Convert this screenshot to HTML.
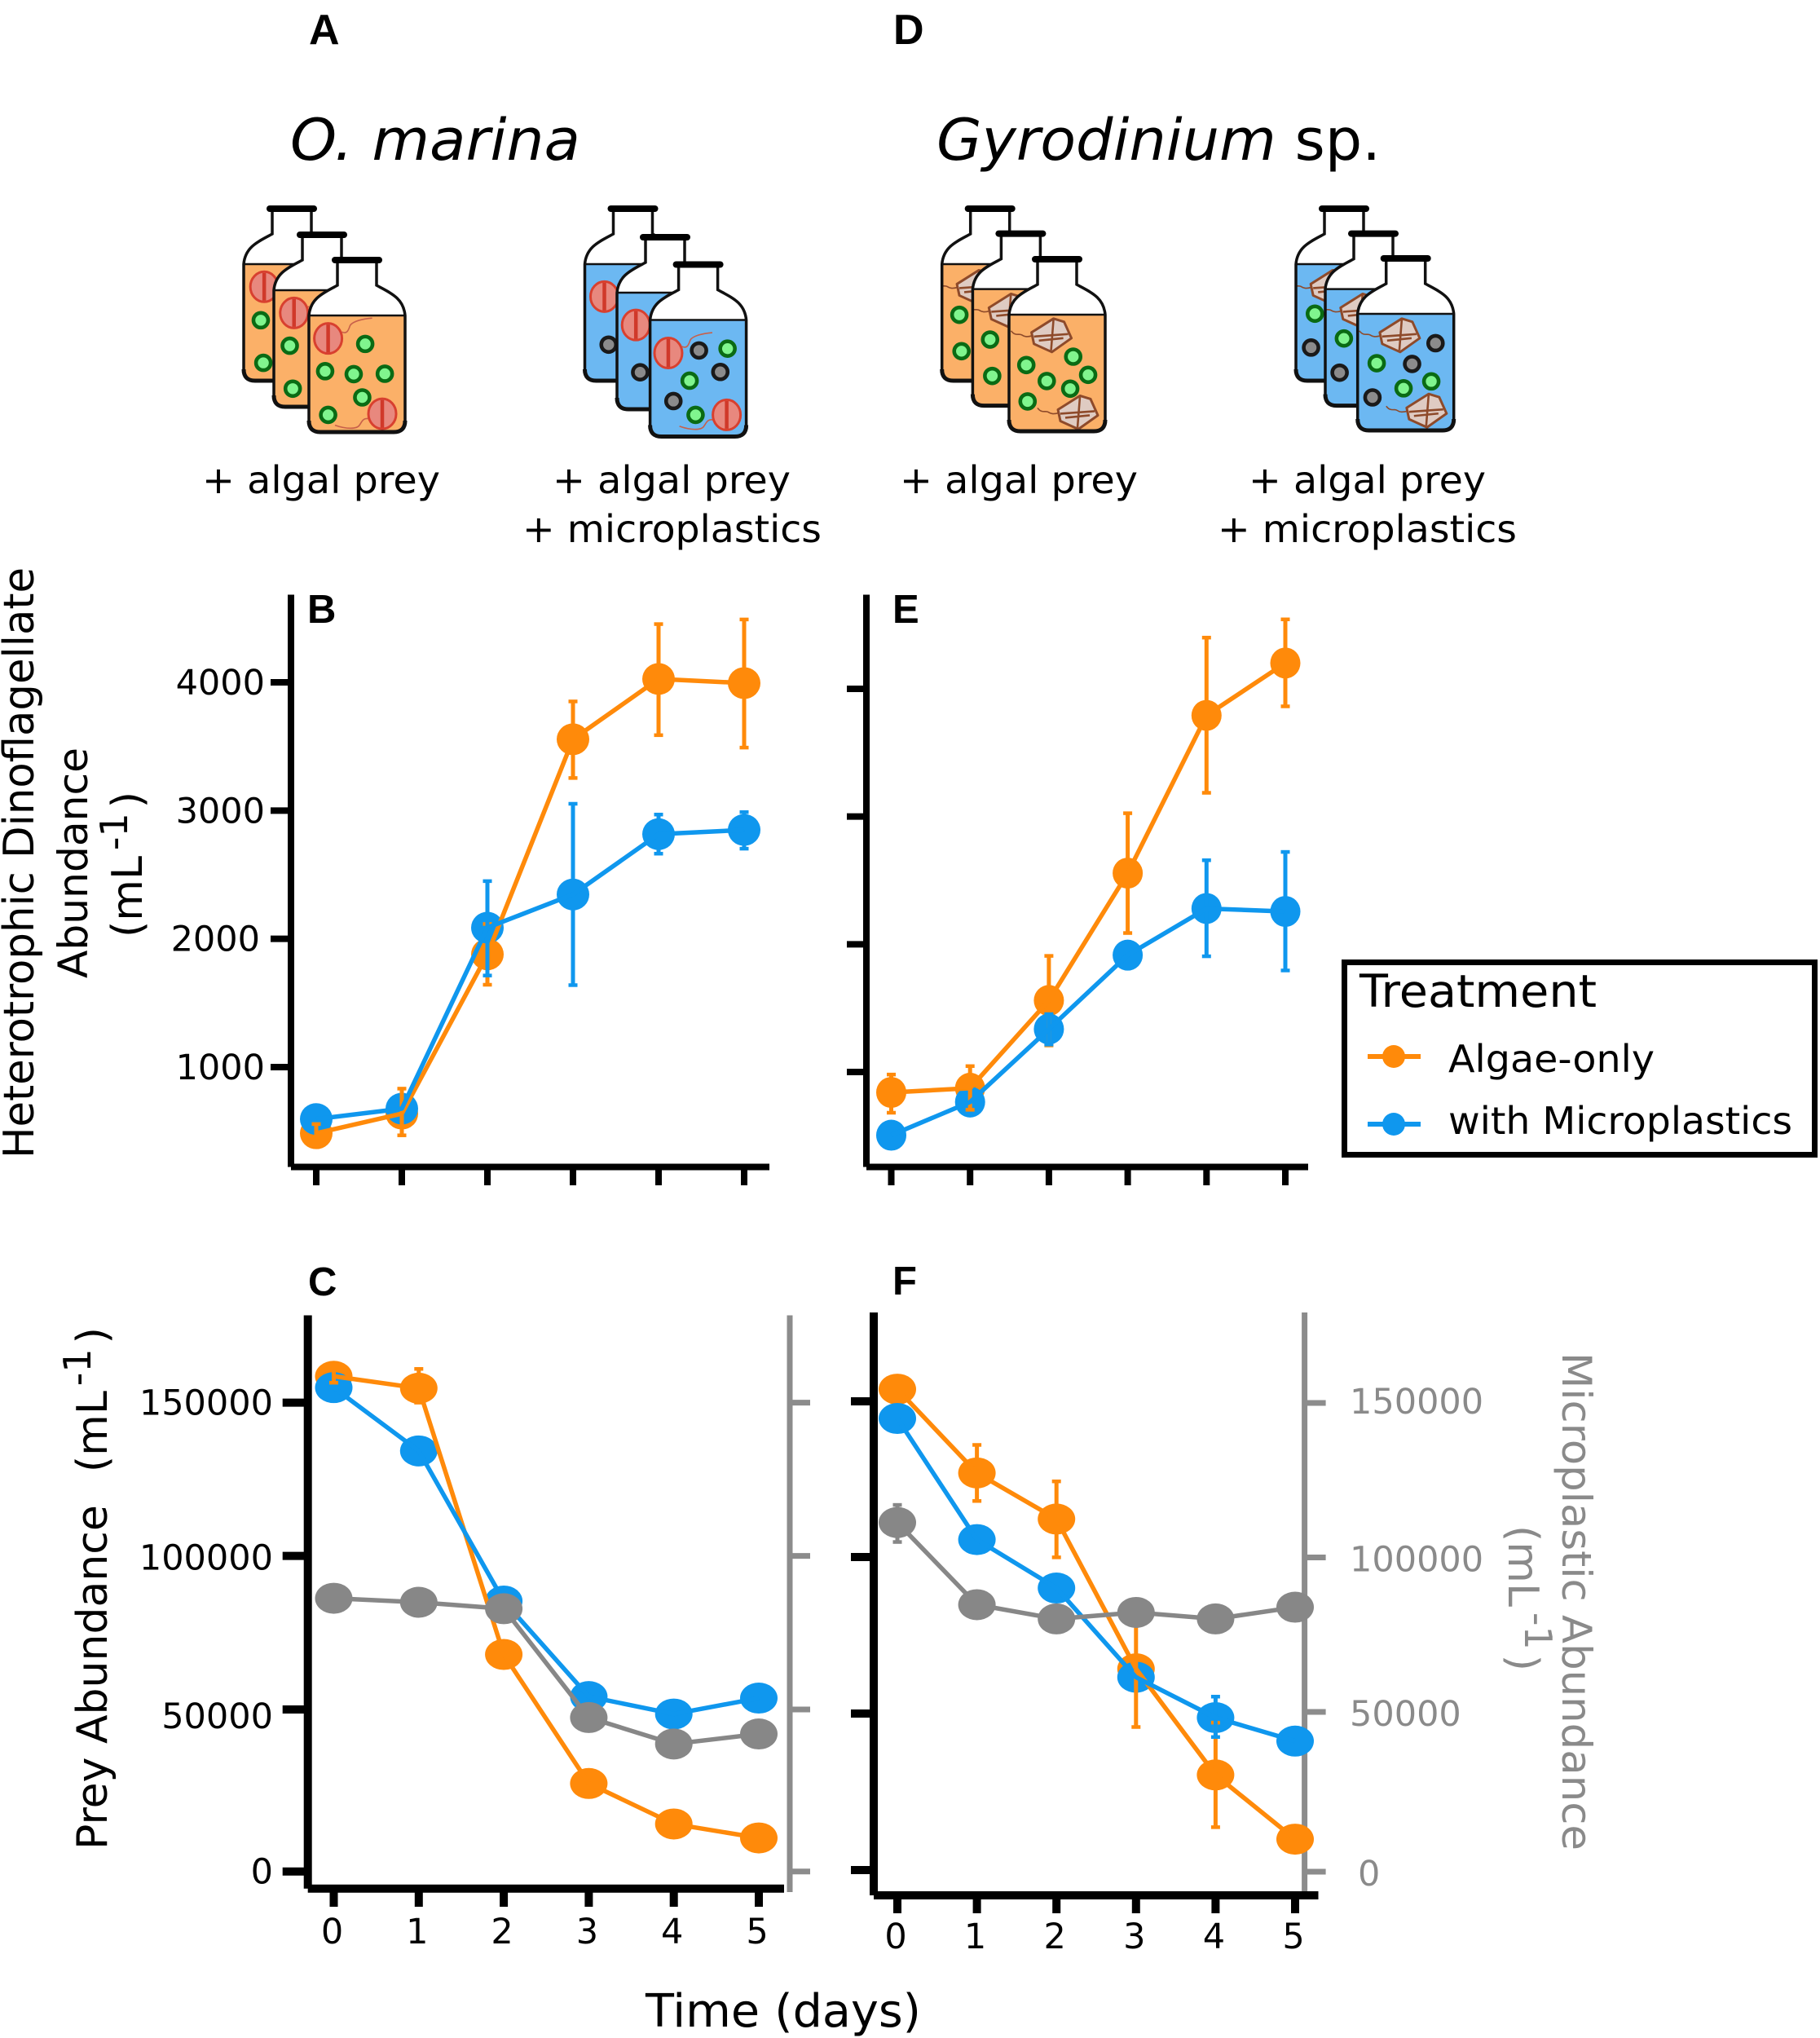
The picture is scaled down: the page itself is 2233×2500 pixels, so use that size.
<!DOCTYPE html>
<html lang="en">
<head>
<meta charset="utf-8">
<title>Heterotrophic dinoflagellate and prey abundance with microplastics</title>
<style>
html,body{margin:0;padding:0;background:#fff}
svg{display:block}
text{font-family:"DejaVu Sans","Liberation Sans",sans-serif;fill:#000}
.letter{font-family:"Liberation Sans",sans-serif;font-weight:700}
</style>
</head>
<body>
<svg id="figure" xmlns="http://www.w3.org/2000/svg" width="2233" height="2500" viewBox="0 0 2233 2500">
<rect x="0" y="0" width="2233" height="2500" fill="#fff"/>
<text class="letter" x="379" y="54" font-size="52">A</text>
<text class="letter" x="1096" y="54" font-size="52">D</text>
<text class="letter" x="377" y="764" font-size="49">B</text>
<text class="letter" x="1095" y="764" font-size="49">E</text>
<text class="letter" x="378" y="1589" font-size="49">C</text>
<text class="letter" x="1095" y="1588" font-size="49">F</text>
<text x="356" y="196" font-size="70" font-style="italic" textLength="356" lengthAdjust="spacingAndGlyphs">O. marina</text>
<text x="1149" y="196" font-size="70" textLength="545" lengthAdjust="spacingAndGlyphs"><tspan font-style="italic">Gyrodinium</tspan> sp.</text>
<g font-size="46">
<text x="248" y="605" textLength="292" lengthAdjust="spacingAndGlyphs">+ algal prey</text>
<text x="678" y="605" textLength="292" lengthAdjust="spacingAndGlyphs">+ algal prey</text>
<text x="641" y="665" textLength="367" lengthAdjust="spacingAndGlyphs">+ microplastics</text>
<text x="1104" y="605" textLength="292" lengthAdjust="spacingAndGlyphs">+ algal prey</text>
<text x="1532" y="605" textLength="291" lengthAdjust="spacingAndGlyphs">+ algal prey</text>
<text x="1494" y="665" textLength="367" lengthAdjust="spacingAndGlyphs">+ microplastics</text>
</g>
<text transform="translate(41 1421) rotate(-90)" font-size="52" textLength="725" lengthAdjust="spacingAndGlyphs">Heterotrophic Dinoflagellate</text>
<text transform="translate(107 1200) rotate(-90)" font-size="50" textLength="283" lengthAdjust="spacingAndGlyphs">Abundance</text>
<text transform="translate(174 1150) rotate(-90)" font-size="52">(mL<tspan dx="7" dy="-18" font-size="46">-1</tspan><tspan dx="6" dy="18">)</tspan></text>
<text transform="translate(131 2269) rotate(-90)" font-size="52">Prey Abundance<tspan dx="40">(mL</tspan><tspan dx="6" dy="-20" font-size="46">-1</tspan><tspan dx="6" dy="20">)</tspan></text>
<text transform="translate(1917 1659) rotate(90)" font-size="50" style="fill:#8a8a8a" textLength="611" lengthAdjust="spacingAndGlyphs">Microplastic Abundance</text>
<text transform="translate(1851 1871) rotate(90)" font-size="52" style="fill:#8a8a8a">(mL<tspan dx="7" dy="-20" font-size="46" style="fill:#8a8a8a">-1</tspan><tspan dx="6" dy="20" style="fill:#8a8a8a">)</tspan></text>
<text x="792" y="2486" font-size="56" textLength="338" lengthAdjust="spacingAndGlyphs">Time (days)</text>
<g>
<rect x="1649.5" y="1180.5" width="577" height="236" fill="#fff" stroke="#000" stroke-width="7"/>
<text x="1668" y="1235" font-size="55" textLength="291" lengthAdjust="spacingAndGlyphs">Treatment</text>
<line x1="1678" y1="1296" x2="1743" y2="1296" stroke="#FF8A0A" stroke-width="6"/>
<circle cx="1710" cy="1296" r="14" fill="#FF8A0A"/>
<text x="1777" y="1315" font-size="46" textLength="253" lengthAdjust="spacingAndGlyphs">Algae-only</text>
<line x1="1678" y1="1379" x2="1743" y2="1379" stroke="#0F97EE" stroke-width="6"/>
<circle cx="1710" cy="1379" r="14" fill="#0F97EE"/>
<text x="1777" y="1391" font-size="46" textLength="422" lengthAdjust="spacingAndGlyphs">with Microplastics</text>
</g>
</svg>
<script>
/* ===== chart data ===== */
const days = [0, 1, 2, 3, 4, 5];
const xTickLabels = ['0', '1', '2', '3', '4', '5'];
const dinoTicks = [1000, 2000, 3000, 4000];
const preyTicks = [0, 50000, 100000, 150000];

const bAlgae = [484, 637, 1879, 3556, 4026, 3994];
const bAlgaeLow = [420, 468, 1642, 3254, 3588, 3491];
const bAlgaeHigh = [556, 832, 2116, 3851, 4454, 4490];
const bPlastic = [595, 676, 2087, 2346, 2816, 2849];
const bPlasticLow = [null, null, 1714, 1639, 2664, 2703];
const bPlasticHigh = [null, null, 2450, 3053, 2969, 2988];

const eAlgae = [840, 873, 1560, 2557, 3792, 4202];
const eAlgaeLow = [681, 704, 1208, 2088, 3186, 3863];
const eAlgaeHigh = [980, 1046, 1909, 3026, 4401, 4544];
const ePlastic = [505, 765, 1336, 1915, 2280, 2257];
const ePlasticLow = [null, null, 1215, null, 1906, 1795];
const ePlasticHigh = [null, null, 1453, null, 2658, 2723];

const cAlgae = [158600, 154700, 67900, 27160, 14660, 10340];
const cAlgaeLow = [156500, 150000, null, null, null, null];
const cAlgaeHigh = [161000, 161000, null, null, null, null];
const cPlastic = [154900, 134250, 85300, 54200, 48600, 53700];
const cBeads = [86200, 84900, 82800, 47500, 39350, 42440];

const fAlgae = [153900, 127000, 112200, 64300, 30400, 9870];
const fAlgaeLow = [null, 118000, 99900, 45700, 13700, null];
const fAlgaeHigh = [null, 136000, 124300, 83000, 47100, null];
const fPlastic = [144500, 105600, 90100, 61600, 48700, 41200];
const fPlasticLow = [null, null, null, null, 42500, null];
const fPlasticHigh = [null, null, null, null, 55400, null];
const fBeads = [111300, 84700, 80100, 82200, 80100, 83900];
const fBeadsLow = [105000, null, null, null, null, null];
const fBeadsHigh = [117000, null, null, null, null, null];

/* ===== helpers ===== */
const NS = 'http://www.w3.org/2000/svg';
const root = document.getElementById('figure');
const ORANGE = '#FF8A0A', BLUE = '#0F97EE', GRAY = '#878787', AXISGRAY = '#8C8C8C';

function make(parent, tag, attrs) {
  const el = document.createElementNS(NS, tag);
  for (const k in attrs) el.setAttribute(k, attrs[k]);
  parent.appendChild(el);
  return el;
}
function polyScale(domain, range) {
  return function (v) {
    let i = 0;
    while (i < domain.length - 2 && v > domain[i + 1]) i++;
    const t = (v - domain[i]) / (domain[i + 1] - domain[i]);
    return range[i] + t * (range[i + 1] - range[i]);
  };
}

function drawSegment(parent, x1, y1, x2, y2, color, w) {
  const el = make(parent, 'line', {x1: x1, y1: y1, x2: x2, y2: y2, stroke: color, 'stroke-width': w});
  
  
  return el;
}
function drawLabel(parent, x, y, str, anchor, color) {
  const el = make(parent, 'text', {x: x, y: y, 'font-size': 43, 'text-anchor': anchor});
  
  
  el.style.fill = color;
  el.textContent = str;
  return el;
}
function drawMarkers(parent, values, sx, sy, color, rx, ry) {
  values.forEach(function (v, i) {
    const el = make(parent, 'ellipse', {cx: sx(days[i]), cy: sy(v), rx: rx, ry: ry, fill: color});
    
    
  });
}
function drawLine(parent, values, sx, sy, color) {
  const pts = values.map(function (v, i) { return sx(days[i]) + ',' + sy(v); }).join(' ');
  const el = make(parent, 'polyline', {points: pts, fill: 'none', stroke: color, 'stroke-width': 5.5, 'stroke-linejoin': 'round'});
  
  
}
function drawErrors(parent, low, high, sx, sy, color) {
  low.forEach(function (lo, i) {
    const hi = high[i];
    if (lo === null || hi === null) return;
    const x = sx(days[i]);
    const stem = make(parent, 'line', {x1: x, y1: sy(lo), x2: x, y2: sy(hi), stroke: color, 'stroke-width': 5});
    
    
    [lo, hi].forEach(function (v) {
      const cap = make(parent, 'line', {x1: x - 5.5, y1: sy(v), x2: x + 5.5, y2: sy(v), stroke: color, 'stroke-width': 4.5});
      
      
    });
  });
}

function drawPanel(p) {
  const g = make(root, 'g', {});
  
  
  const sx = function (d) { return p.x0 + d * p.xStep; };
  const w = p.axisW;

  if (p.rightX) {
    drawSegment(g, p.rightX, p.top, p.rightX, p.rightBottom, AXISGRAY, 7);
    p.yTicks.forEach(function (t) {
      const y = p.rightScale(t);
      drawSegment(g, p.rightX, y, p.rightX + p.rightTick, y, AXISGRAY, 7);
      if (p.rightLabels) {
        drawLabel(g, 1656 + (t === 0 ? 10 : 0), y + 15 + (t === 150000 ? -2 : 2), String(t), 'start', '#8a8a8a');
      }
    });
  }
  drawSegment(g, p.axisX, p.top, p.axisX, p.axisY, '#000', w);
  drawSegment(g, p.axisX, p.axisY, p.axisRight, p.axisY, '#000', w);
  p.yTicks.forEach(function (t) {
    const y = p.sy(t);
    drawSegment(g, p.tickLeft, y, p.axisX, y, '#000', w);
    if (p.labelRight) {
      const dy = (p.labelDy && p.labelDy[t]) || 0;
      const dx = (p.labelDx && p.labelDx[t]) || 0;
      drawLabel(g, p.labelRight + dx, y + 15 + dy, String(t), 'end', '#000');
    }
  });
  days.forEach(function (d, i) {
    const x = sx(d);
    drawSegment(g, x, p.axisY, x, p.tickBottom, '#000', w);
    if (p.xLabelY) drawLabel(g, x - 2, p.xLabelY, xTickLabels[i], 'middle', '#000');
  });

  drawMarkers(g, p.algae, sx, p.sy, ORANGE, p.rx, p.ry);
  drawMarkers(g, p.plastic, sx, p.sy, BLUE, p.rx, p.ry);
  if (p.algaeLow) drawErrors(g, p.algaeLow, p.algaeHigh, sx, p.sy, ORANGE);
  drawLine(g, p.algae, sx, p.sy, ORANGE);
  if (p.plasticLow) drawErrors(g, p.plasticLow, p.plasticHigh, sx, p.sy, BLUE);
  drawLine(g, p.plastic, sx, p.sy, BLUE);
  if (p.beads) {
    if (p.beadsLow) drawErrors(g, p.beadsLow, p.beadsHigh, sx, p.rightScale, GRAY);
    drawLine(g, p.beads, sx, p.rightScale, GRAY);
    drawMarkers(g, p.beads, sx, p.rightScale, GRAY, p.rx, p.ry);
  }
}

drawPanel({
  name: 'panel-b-chart', x0: 388, xStep: 105, top: 729.5, axisX: 357, axisY: 1431.5, axisRight: 944, axisW: 8,
  tickLeft: 332, tickBottom: 1454, labelRight: 325, labelDx: {2000: -6}, rx: 20, ry: 19.5,
  yTicks: dinoTicks, sy: polyScale([1000, 4000], [1309, 837]),
  algae: bAlgae, algaeLow: bAlgaeLow, algaeHigh: bAlgaeHigh,
  plastic: bPlastic, plasticLow: bPlasticLow, plasticHigh: bPlasticHigh
});
drawPanel({
  name: 'panel-e-chart', x0: 1093.5, xStep: 96.7, top: 729.5, axisX: 1063, axisY: 1431.5, axisRight: 1605, axisW: 8,
  tickLeft: 1039, tickBottom: 1454, rx: 18.5, ry: 19,
  yTicks: dinoTicks, sy: polyScale([1000, 4000], [1315, 845]),
  algae: eAlgae, algaeLow: eAlgaeLow, algaeHigh: eAlgaeHigh,
  plastic: ePlastic, plasticLow: ePlasticLow, plasticHigh: ePlasticHigh
});
drawPanel({
  name: 'panel-c-chart', x0: 409.5, xStep: 104.3, top: 1613.5, axisX: 377.7, axisY: 2316.7, axisRight: 962, axisW: 10,
  tickLeft: 346.7, tickBottom: 2339, labelRight: 335, labelDy: {50000: 8, 100000: 2}, xLabelY: 2384, rx: 23, ry: 19,
  yTicks: preyTicks, sy: polyScale(preyTicks, [2295.7, 2097, 1908.6, 1720.6]),
  rightScale: polyScale(preyTicks, [2295.7, 2097, 1908.6, 1720.6]),
  rightX: 969, rightBottom: 2321, rightTick: 25,
  algae: cAlgae, algaeLow: cAlgaeLow, algaeHigh: cAlgaeHigh,
  plastic: cPlastic, beads: cBeads
});
drawPanel({
  name: 'panel-f-chart', x0: 1101, xStep: 97.6, top: 1610, axisX: 1072, axisY: 2325, axisRight: 1617.5, axisW: 10,
  tickLeft: 1044, tickBottom: 2347, xLabelY: 2390, rx: 23, ry: 19,
  yTicks: preyTicks, sy: polyScale(preyTicks, [2294, 2102, 1910, 1719]),
  rightScale: polyScale(preyTicks, [2296, 2100, 1910.5, 1721]),
  rightX: 1600.6, rightBottom: 2322.5, rightTick: 26, rightLabels: true,
  algae: fAlgae, algaeLow: fAlgaeLow, algaeHigh: fAlgaeHigh,
  plastic: fPlastic, plasticLow: fPlasticLow, plasticHigh: fPlasticHigh,
  beads: fBeads, beadsLow: fBeadsLow, beadsHigh: fBeadsHigh
});

/* ===== bottle illustrations (schematic, not data) ===== */
const LIQ_ORANGE = '#FBB068', LIQ_BLUE = '#6CB8F2';
let bottleCount = 0;

function drawCell(g, kind, x, y, flag) {
  if (kind === 'g' || kind === 'k') {
    const c = make(g, 'circle', {cx: x, cy: y, r: 9, fill: kind === 'g' ? '#80F58E' : '#8B8B8B', stroke: kind === 'g' ? '#0A6B14' : '#1a1a1a', 'stroke-width': 4.6});
    
    
  } else if (kind === 'r') {
    const d = flag === 'down'
      ? 'M' + (x - 17) + ' ' + (y + 6) + 'c-7 -1 -8 4 -11 8c-3 5 -16 5 -30 0'
      : 'M' + (x + 17) + ' ' + (y - 8) + 'c6 3 8 -2 10 -8c3 -5 15 -8 27 -9';
    const tail = make(g, 'path', {d: d, fill: 'none', stroke: '#C8604A', 'stroke-width': 1.6});
    
    
    const cell = make(g, 'ellipse', {cx: x, cy: y, rx: 17, ry: 18.5, fill: '#E8887E', stroke: '#D8402F', 'stroke-width': 3});
    
    
    const mid = make(g, 'line', {x1: x, y1: y - 17, x2: x, y2: y + 17, stroke: '#D0392A', 'stroke-width': 4.5});
    
    
  } else {
    const tail = make(g, 'path', {d: 'M' + (x - 24) + ' ' + (y + 2) + 'c-7 2 -10 1 -13 -1c-3 -2 -8 2 -13 -5', fill: 'none', stroke: '#8E4A2A', 'stroke-width': 1.6});
    
    
    const pts = [[-25,-2],[2,-19],[15,-15],[24,5],[0,22],[-22,12]].map(function (q) { return (x + q[0]) + ',' + (y + q[1]); }).join(' ');
    const cell = make(g, 'polygon', {points: pts, fill: '#DFCBC2', stroke: '#8E4A2A', 'stroke-width': 3, 'stroke-linejoin': 'round'});
    
    
    const mid = make(g, 'path', {d: 'M' + (x - 22) + ' ' + (y + 3) + 'L' + (x + 20) + ' ' + y + 'M' + (x + 2) + ' ' + (y - 18) + 'L' + (x - 1) + ' ' + (y + 20) + 'M' + (x - 16) + ' ' + (y + 8) + 'L' + (x + 14) + ' ' + (y + 5), stroke: '#8E4A2A', 'stroke-width': 2.6, fill: 'none'});
    
    
  }
}

function drawBottle(parent, cx, capY, liquid, items, offX) {
  const g = make(parent, 'g', {});
  
  
  const hw = 59, nw = 24, levelY = capY + 68, botY = capY + 211;
  const outline = 'M' + (cx - nw) + ' ' + capY + 'V' + (capY + 31) +
    'C' + (cx - 40) + ' ' + (capY + 40) + ' ' + (cx - hw + 2) + ' ' + (capY + 46) + ' ' + (cx - hw) + ' ' + levelY +
    'V' + (botY - 14) + 'Q' + (cx - hw) + ' ' + botY + ' ' + (cx - hw + 14) + ' ' + botY +
    'H' + (cx + hw - 14) + 'Q' + (cx + hw) + ' ' + botY + ' ' + (cx + hw) + ' ' + (botY - 14) +
    'V' + levelY + 'C' + (cx + hw - 2) + ' ' + (capY + 46) + ' ' + (cx + 40) + ' ' + (capY + 40) + ' ' + (cx + nw) + ' ' + (capY + 31) +
    'V' + capY + 'Z';
  const glass = make(g, 'path', {d: outline, fill: '#fff'});
  
  
  const liq = make(g, 'path', {
    d: 'M' + (cx - hw) + ' ' + levelY + 'H' + (cx + hw) + 'V' + (botY - 14) + 'Q' + (cx + hw) + ' ' + botY + ' ' + (cx + hw - 14) + ' ' + botY +
       'H' + (cx - hw + 14) + 'Q' + (cx - hw) + ' ' + botY + ' ' + (cx - hw) + ' ' + (botY - 14) + 'Z',
    fill: liquid, stroke: '#111', 'stroke-width': 2.5
  });
  
  
  bottleCount += 1;
  const clipId = 'bottle-clip-' + bottleCount;
  const clip = make(g, 'clipPath', {id: clipId});
  
  
  make(clip, 'path', {d: outline});
  const contents = make(g, 'g', {'clip-path': 'url(#' + clipId + ')'});
  
  
  items.forEach(function (it) {
    drawCell(contents, it[0], it[1] / 1.912 + offX, it[2] / 2.24, it[3]);
  });
  const edge = make(g, 'path', {d: outline, fill: 'none', stroke: '#111', 'stroke-width': 3.5});
  
  
  const base = make(g, 'path', {d: 'M' + (cx - hw) + ' ' + (botY - 14) + 'Q' + (cx - hw) + ' ' + botY + ' ' + (cx - hw + 14) + ' ' + botY + 'H' + (cx + hw - 14) + 'Q' + (cx + hw) + ' ' + botY + ' ' + (cx + hw) + ' ' + (botY - 14), fill: 'none', stroke: '#111', 'stroke-width': 5});
  
  
  const cap = make(g, 'line', {x1: cx - 27, y1: capY, x2: cx + 27, y2: capY, stroke: '#000', 'stroke-width': 8, 'stroke-linecap': 'round'});
  
  
}

const illus = make(root, 'g', {});



drawBottle(illus, 358, 256, LIQ_ORANGE, [['r',180,788],['g',172,880],['g',178,997]], 230);
drawBottle(illus, 395, 288, LIQ_ORANGE, [['r',250,860],['g',240,950],['g',247,1068]], 230);
drawBottle(illus, 438, 319, LIQ_ORANGE, [['r',330,930,'up'],['g',417,945],['g',323,1020],['g',390,1028],['g',463,1027],['g',410,1092],['g',330,1140],['r',457,1137,'down']], 230);

drawBottle(illus, 776.5, 256, LIQ_BLUE, [['r',978,815],['k',988,947]], 230);
drawBottle(illus, 816, 291, LIQ_BLUE, [['r',1052,893],['k',1062,1023]], 230);
drawBottle(illus, 856.6, 324.5, LIQ_BLUE, [['r',1128,970,'up'],['k',1200,963],['g',1267,958],['k',1250,1022],['g',1178,1046],['k',1140,1102],['g',1192,1140],['r',1265,1140,'down']], 230);

drawBottle(illus, 1214.7, 256, LIQ_ORANGE, [['b',285,785],['g',243,865],['g',248,965]], 1050);
drawBottle(illus, 1252.4, 286.6, LIQ_ORANGE, [['b',360,850],['g',315,933],['g',320,1033]], 1050);
drawBottle(illus, 1297, 318, LIQ_ORANGE, [['b',460,918],['g',400,1003],['g',510,980],['g',545,1030],['g',448,1047],['g',503,1068],['g',403,1103],['b',522,1130]], 1050);

drawBottle(illus, 1649, 256, LIQ_BLUE, [['b',1115,785],['g',1077,862],['k',1068,955]], 1050);
drawBottle(illus, 1685, 286.6, LIQ_BLUE, [['b',1185,850],['g',1145,930],['k',1135,1024]], 1050);
drawBottle(illus, 1724.7, 317, LIQ_BLUE, [['b',1277,918],['k',1360,943],['g',1222,998],['k',1305,1000],['g',1350,1048],['g',1285,1067],['k',1212,1092],['b',1340,1125]], 1050);
</script>
</body>
</html>
